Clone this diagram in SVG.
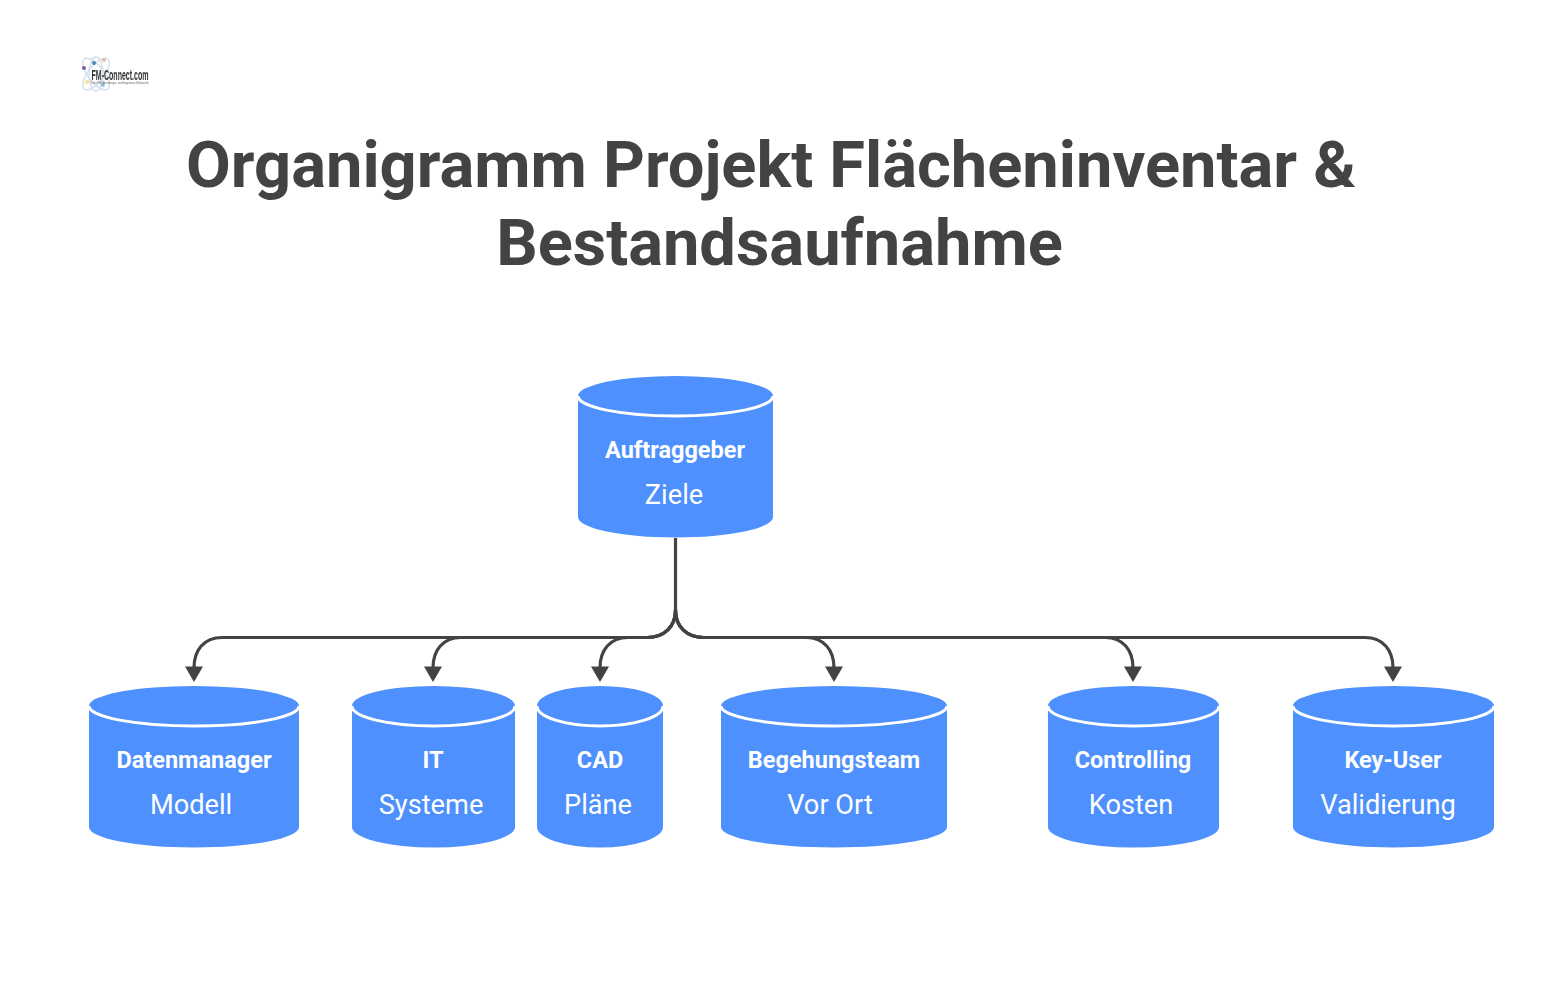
<svg xmlns="http://www.w3.org/2000/svg" width="1558" height="994" viewBox="0 0 1558 994">
<style>
text{font-family:Roboto,"Liberation Sans",sans-serif;text-anchor:middle}
.title{font-size:65px;font-weight:700;fill:#434343}
.b{font-size:23.500px;font-weight:700;fill:#fff}
.r{font-size:27.200px;font-weight:400;fill:#fff}
.body{fill:#4d90fe}
.rim{fill:none;stroke:#fff;stroke-width:3}
.edge{fill:none;stroke:#434343;stroke-width:3.200}
</style>
<defs>
<filter id="soft" x="-10%" y="-10%" width="120%" height="120%"><feGaussianBlur stdDeviation="0.45"/></filter>
<path id="arrow" d="M-9 0H9L0 15.500Z" fill="#434343"/>
</defs>
<rect width="1558" height="994" fill="#fff"/>
<g id="logo" filter="url(#soft)">
<g fill="none" stroke="#d4dfea" stroke-width="1.500"><ellipse cx="96" cy="74" rx="8" ry="19" transform="rotate(38 96 74)"/><ellipse cx="96" cy="74" rx="8" ry="19" transform="rotate(-38 96 74)"/><ellipse cx="96" cy="74" rx="7" ry="17"/></g>
<circle cx="84" cy="68" r="2" fill="#7a5fb0"/><circle cx="94" cy="63" r="2" fill="#4f86b8"/><circle cx="104" cy="60" r="2" fill="#e8b8b0"/><circle cx="87" cy="82" r="2" fill="#f2e58a"/><circle cx="103" cy="85" r="2" fill="#7fc4e0"/>
<text x="120" y="80" style="font-family:'Liberation Sans',sans-serif;font-weight:700" font-size="14" fill="#333" textLength="57" lengthAdjust="spacingAndGlyphs">FM-Connect.com</text>
<text x="120" y="84" style="font-family:'Liberation Sans',sans-serif" font-size="3.500" fill="#666" textLength="57" lengthAdjust="spacingAndGlyphs">Das FM-Beratungs- und Ingenieur-Netzwerk</text>
</g>
<g id="title"><text class="title" x="771" y="187">Organigramm Projekt Flächeninventar &amp;</text><text class="title" x="779.500" y="265">Bestandsaufnahme</text></g>
<g id="connectors">
<path class="edge" d="M675.500 538V610C675.500 627 664 637.500 647 637.500H222C204 637.500 194 650 194 668"/>
<path class="edge" d="M675.500 610C675.500 627 664 637.500 647 637.500H461C443 637.500 433 650 433 668"/>
<path class="edge" d="M675.500 610C675.500 627 664 637.500 647 637.500H628C610 637.500 600 650 600 668"/>
<path class="edge" d="M675.500 610C675.500 627 687 637.500 704 637.500H806C824 637.500 834 650 834 668"/>
<path class="edge" d="M675.500 610C675.500 627 687 637.500 704 637.500H1105C1123 637.500 1133 650 1133 668"/>
<path class="edge" d="M675.500 610C675.500 627 687 637.500 704 637.500H1365C1383 637.500 1393 650 1393 668"/>
<use href="#arrow" x="194" y="666.500"/><use href="#arrow" x="433" y="666.500"/><use href="#arrow" x="600" y="666.500"/><use href="#arrow" x="834" y="666.500"/><use href="#arrow" x="1133" y="666.500"/><use href="#arrow" x="1393" y="666.500"/>
</g>
<g id="n0"><path class="body" d="M578 396A97.500 20 0 0 1 773 396V517A97.500 20.500 0 0 1 578 517Z"/><path class="rim" d="M578 396A97.500 20 0 0 0 773 396"/><text class="b" x="675" y="458">Auftraggeber</text><text class="r" x="674" y="503.500">Ziele</text></g>
<g id="n1"><path class="body" d="M89 706A105 20 0 0 1 299 706V827A105 20.500 0 0 1 89 827Z"/><path class="rim" d="M89 706A105 20 0 0 0 299 706"/><text class="b" x="194" y="768">Datenmanager</text><text class="r" x="191" y="813.500">Modell</text></g>
<g id="n2"><path class="body" d="M352 706A81.500 20 0 0 1 515 706V827A81.500 20.500 0 0 1 352 827Z"/><path class="rim" d="M352 706A81.500 20 0 0 0 515 706"/><text class="b" x="433" y="768">IT</text><text class="r" x="431" y="813.500">Systeme</text></g>
<g id="n3"><path class="body" d="M537 706A63 20 0 0 1 663 706V827A63 20.500 0 0 1 537 827Z"/><path class="rim" d="M537 706A63 20 0 0 0 663 706"/><text class="b" x="600" y="768">CAD</text><text class="r" x="598" y="813.500">Pläne</text></g>
<g id="n4"><path class="body" d="M721 706A113 20 0 0 1 947 706V827A113 20.500 0 0 1 721 827Z"/><path class="rim" d="M721 706A113 20 0 0 0 947 706"/><text class="b" x="834" y="768">Begehungsteam</text><text class="r" x="830" y="813.500">Vor Ort</text></g>
<g id="n5"><path class="body" d="M1048 706A85.500 20 0 0 1 1219 706V827A85.500 20.500 0 0 1 1048 827Z"/><path class="rim" d="M1048 706A85.500 20 0 0 0 1219 706"/><text class="b" x="1133" y="768">Controlling</text><text class="r" x="1131" y="813.500">Kosten</text></g>
<g id="n6"><path class="body" d="M1293 706A100.500 20 0 0 1 1494 706V827A100.500 20.500 0 0 1 1293 827Z"/><path class="rim" d="M1293 706A100.500 20 0 0 0 1494 706"/><text class="b" x="1393" y="768">Key-User</text><text class="r" x="1388" y="813.500">Validierung</text></g>
</svg>
